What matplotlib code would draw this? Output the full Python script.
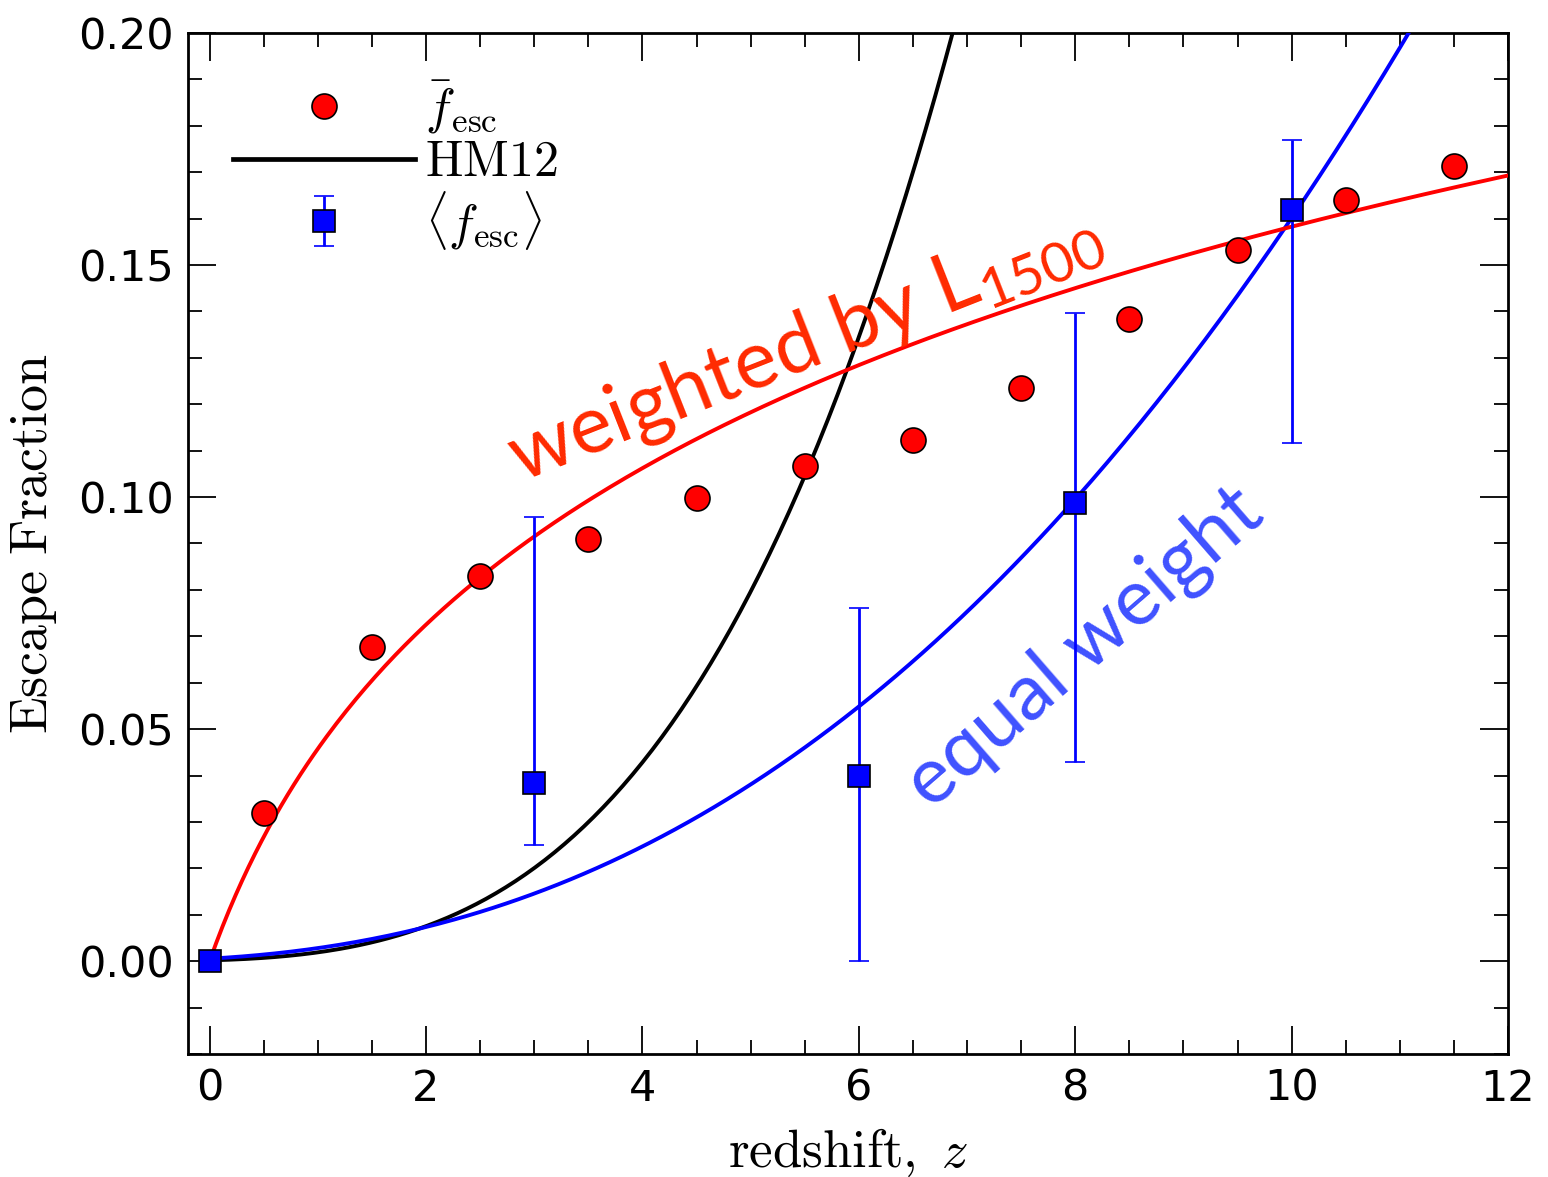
import numpy as np
import matplotlib
matplotlib.use("Agg")
import matplotlib.pyplot as plt
from matplotlib.ticker import MultipleLocator

plt.rcParams['mathtext.fontset'] = 'cm'
plt.rcParams['mathtext.rm'] = 'Lato'
plt.rcParams['mathtext.it'] = 'Lato:italic'
plt.rcParams['font.family'] = 'DejaVu Sans'

# mean escape fraction per redshift bin
z_bins = [0.5, 1.5, 2.5, 3.5, 4.5, 5.5, 6.5, 7.5, 8.5, 9.5, 10.5, 11.5]
f_mean = [0.032, 0.0676, 0.0829, 0.0909, 0.0999, 0.1066, 0.1122, 0.1236, 0.1384, 0.1533, 0.164, 0.1714]

# luminosity-averaged escape fraction with errors
z_avg = [0, 3, 6, 8, 10]
f_avg = [0.0, 0.0383, 0.040, 0.0988, 0.1619]
f_lo = [0.0, 0.025, 0.0, 0.043, 0.1117]
f_hi = [0.0, 0.0956, 0.076, 0.1397, 0.177]

# fit parameters
hm12_a, hm12_b = 1.8e-4, 3.4       # Haardt & Madau 2012: a (1+z)^b
eq_a, eq_b = 5.45e-4, 2.37         # equal weight: a (1+z)^b
lw_a = 0.066                       # L1500 weighted: a ln(1+z)

z = np.linspace(0, 12, 400)
hm12 = hm12_a * (1 + z) ** hm12_b
eq_fit = eq_a * (1 + z) ** eq_b
lw_fit = lw_a * np.log(1 + z)

fig = plt.figure(figsize=(15.48, 11.77), dpi=100)
ax = fig.add_axes([0.1214, 0.1045, 0.9742 - 0.1214, 0.972 - 0.1045])

ax.plot(z, hm12, color='black', lw=2.8, zorder=3)
ax.plot(z, eq_fit, color='blue', lw=2.8, zorder=3)
ax.plot(z, lw_fit, color='red', lw=2.8, zorder=3)

pts, = ax.plot(z_bins, f_mean, 'o', color='red', mec='black', mew=1.2, ms=18, zorder=4)
hm_line, = ax.plot([], [], color='black', lw=3.4)
yerr = [np.array(f_avg) - np.array(f_lo), np.array(f_hi) - np.array(f_avg)]
eb = ax.errorbar(z_avg, f_avg, yerr=yerr, fmt='s', color='blue', mfc='blue', mec='black',
                 mew=1.2, ms=16, elinewidth=2, capsize=7, capthick=1.5, zorder=4)

leg = ax.legend([pts, hm_line, eb],
                [r'$\bar{f}_{\rm esc}$', r'$\rm HM12$', r'$\langle f_{\rm esc}\rangle$'],
                loc='upper left', bbox_to_anchor=(0.0, 1.0), frameon=False,
                fontsize=36, handlelength=3.65, handletextpad=0.2, labelspacing=0.05,
                borderaxespad=0.5, numpoints=1)

ax.text(5.5, 0.1325, r'weighted by L$_{\rm 1500}$', color='#ff2a00', fontsize=58,
        family='Lato', math_fontfamily='custom', rotation=21.5,
        rotation_mode='anchor', ha='center', va='center')
ax.text(8.09, 0.0675, 'equal weight', color='#3f51ff', fontsize=57,
        family='Lato', rotation=41, rotation_mode='anchor', ha='center', va='center')

ax.set_xlim(-0.2, 12)
ax.set_ylim(-0.02, 0.20)
ax.xaxis.set_major_locator(MultipleLocator(2))
ax.xaxis.set_minor_locator(MultipleLocator(0.5))
ax.yaxis.set_major_locator(MultipleLocator(0.05))
ax.yaxis.set_minor_locator(MultipleLocator(0.01))
ax.yaxis.set_major_formatter(plt.FormatStrFormatter('%.2f'))
ax.tick_params(which='both', direction='in', top=True, right=True, labelsize=31, width=1.3)
ax.tick_params(which='major', length=20, pad=10)
ax.tick_params(which='minor', length=10)
for s in ax.spines.values():
    s.set_linewidth(2)

ax.set_xlabel(r'$\rm redshift,\ \mathit{z}$', fontsize=38, labelpad=12)
ax.set_ylabel(r'$\rm Escape\ Fraction$', fontsize=39, labelpad=14)

fig.savefig('out.png', dpi=100)
